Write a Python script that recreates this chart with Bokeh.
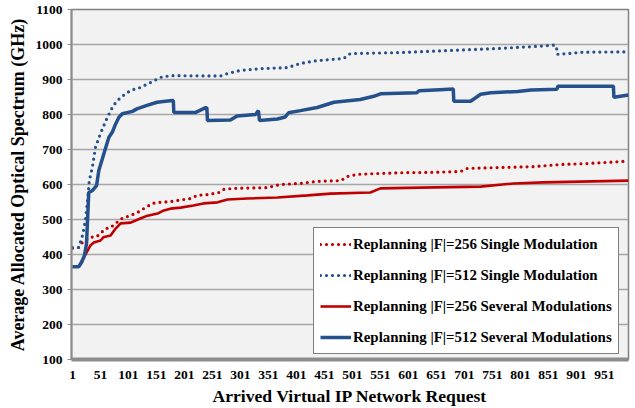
from bokeh.plotting import figure
from bokeh.models import Range1d, FixedTicker, Legend, LegendItem
from bokeh.embed import file_html
from bokeh.resources import INLINE

# ---- data ----
x_ticks = [1, 51, 101, 151, 201, 251, 301, 351, 401, 451, 501, 551, 601, 651, 701, 751, 801, 851, 901, 951]
y_ticks = [100, 200, 300, 400, 500, 600, 700, 800, 900, 1000, 1100]

names = [
    "Replanning |F|=256 Single Modulation",
    "Replanning |F|=512 Single Modulation",
    "Replanning |F|=256 Several Modulations",
    "Replanning |F|=512 Several Modulations",
]

red_single_n = [1, 12, 17, 31, 44, 51, 60, 69, 78, 92, 101, 117, 128, 144, 155, 176, 199, 212, 224, 242,
                262, 271, 289, 349, 372, 408, 438, 480, 492, 510, 539, 599, 622, 694, 706, 824, 872, 921, 985, 994]
red_single_v = [418, 420, 432, 449, 451, 460, 474, 477, 489, 506, 509, 520, 531, 546, 549, 551, 557, 560, 569, 571,
                577, 586, 589, 591, 600, 603, 609, 611, 623, 629, 631, 634, 634, 637, 646, 651, 657, 660, 666, 666]

blue_single_n = [1, 12, 19, 24, 28, 31, 37, 42, 51, 63, 74, 87, 105, 122, 140, 158, 176, 265, 278, 301,
                 337, 385, 408, 438, 485, 497, 587, 676, 765, 824, 860, 865, 867, 885, 913, 994]
blue_single_v = [420, 420, 455, 497, 554, 611, 654, 706, 746, 791, 826, 849, 869, 877, 891, 906, 911, 910, 917, 926,
                 931, 934, 946, 954, 960, 974, 977, 983, 989, 994, 998, 996, 972, 974, 978, 979]

red_several_n = [1, 12, 18, 21, 28, 33, 39, 51, 56, 69, 78, 87, 105, 122, 135, 153, 164, 176, 194, 217,
                 235, 260, 278, 313, 367, 421, 462, 533, 551, 622, 730, 789, 842, 994]
red_several_v = [365, 365, 378, 391, 411, 426, 434, 440, 449, 454, 474, 489, 491, 503, 511, 517, 526, 531, 534, 540,
                 546, 549, 557, 560, 563, 569, 574, 577, 589, 591, 594, 603, 606, 611]

blue_several_n = [1, 12, 16, 22, 26, 30, 36, 44, 48, 57, 66, 72, 78, 84, 90, 108, 116, 134, 152, 179,
                  181, 182, 221, 238, 241, 242, 283, 295, 328, 333, 335, 367, 381, 387, 408, 438, 468, 515, 539, 551,
                  616, 620, 657, 681, 682, 712, 730, 748, 796, 820, 866, 868, 967, 968, 994]
blue_several_v = [365, 365, 375, 395, 430, 577, 582, 597, 640, 688, 735, 749, 773, 792, 802, 809, 816, 826, 835, 840,
                  840, 806, 806, 819, 819, 783, 784, 796, 800, 811, 783, 787, 793, 805, 811, 820, 835, 843, 852, 859,
                  862, 868, 871, 873, 838, 838, 858, 862, 866, 870, 872, 881, 881, 849, 856]

RED = "#C00000"
BLUE = "#24508C"
FONT = "'Liberation Serif', 'Times New Roman', serif"

p = figure(
    width=635, height=406,
    frame_width=557, frame_height=350,
    min_border_left=71, min_border_right=7, min_border_top=9, min_border_bottom=47,
    x_range=Range1d(-0.8, 994), y_range=Range1d(100, 1100),
    output_backend="svg", toolbar_location=None,
    background_fill_color="#F2F2F2", border_fill_color="white",
)

p.outline_line_color = "#808080"
p.outline_line_width = 1.5

p.xgrid.grid_line_color = None
p.ygrid.grid_line_color = "#A6A6A6"
p.ygrid.grid_line_width = 1.5

p.xaxis.ticker = FixedTicker(ticks=x_ticks)
p.yaxis.ticker = FixedTicker(ticks=y_ticks)
p.xaxis.axis_line_color = "#8C8C8C"
p.xaxis.axis_line_width = 4
p.xaxis.major_tick_line_color = None
p.xaxis.minor_tick_line_color = None
p.yaxis.axis_line_color = "#8C8C8C"
p.yaxis.axis_line_width = 2
p.yaxis.major_tick_line_color = "#8C8C8C"
p.yaxis.major_tick_out = 4
p.yaxis.major_tick_in = 0
p.yaxis.minor_tick_line_color = None

for ax in (p.xaxis, p.yaxis):
    ax.major_label_text_font = FONT
    ax.major_label_text_font_style = "bold"
    ax.major_label_text_font_size = "13.5px"
    ax.major_label_text_color = "black"
    ax.axis_label_text_font = FONT
    ax.axis_label_text_font_style = "bold"
    ax.axis_label_text_color = "black"

p.xaxis.axis_label_text_font_size = "17.6px"
p.yaxis.axis_label_text_font_size = "18px"
p.xaxis.major_label_standoff = 5
p.xaxis.axis_label_standoff = 4
p.yaxis.major_label_standoff = 5
p.yaxis.axis_label_standoff = 5
p.xaxis.axis_label = "Arrived Virtual IP Network Request"
p.yaxis.axis_label = "Average Allocated Optical Spectrum (GHz)"

r1 = p.line(red_single_n, red_single_v, line_color=RED, line_width=3.2, line_dash="0 6", line_cap="round")
r2 = p.line(blue_single_n, blue_single_v, line_color=BLUE, line_width=3.2, line_dash="0 6", line_cap="round")
r3 = p.line(red_several_n, red_several_v, line_color=RED, line_width=2.6)
r4 = p.line(blue_several_n, blue_several_v, line_color=BLUE, line_width=3.5)

legend = Legend(
    items=[LegendItem(label=names[0], renderers=[r1]),
           LegendItem(label=names[1], renderers=[r2]),
           LegendItem(label=names[2], renderers=[r3]),
           LegendItem(label=names[3], renderers=[r4])],
    location=(242, 5),
    border_line_color="black", border_line_width=1,
    background_fill_color="white", background_fill_alpha=1,
    label_text_font=FONT, label_text_font_style="bold", label_text_font_size="14.9px",
    label_text_color="black",
    glyph_width=31, glyph_height=20, label_height=20, spacing=11, padding=6, margin=0,
    label_standoff=2,
)
p.add_layout(legend)

open("out.html", "w").write(file_html(p, INLINE))
